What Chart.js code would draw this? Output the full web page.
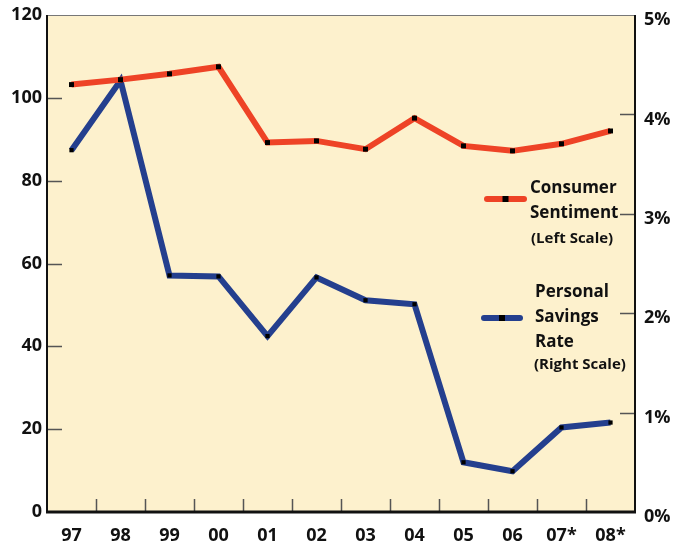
<!DOCTYPE html>
<html>
<head>
<meta charset="utf-8">
<script src="https://cdn.jsdelivr.net/npm/chart.js@4"></script>
<style>
  html, body { margin: 0; padding: 0; background: #fff; }
  #wrap { width: 675px; height: 543px; }
</style>
</head>
<body>
<div id="wrap"><canvas id="chart" width="675" height="543"></canvas></div>
<script>
// values
const years = ['97', '98', '99', '00', '01', '02', '03', '04', '05', '06', '07*', '08*'];
const sentiment = [103.2, 104.4, 105.8, 107.5, 89.2, 89.6, 87.6, 95.1, 88.4, 87.2, 88.9, 92.0];
const savingsRate = [3.64, 4.34, 2.38, 2.37, 1.77, 2.36, 2.13, 2.09, 0.50, 0.41, 0.85, 0.90];
const leftTicks = [0, 20, 40, 60, 80, 100, 120];
const rightTicks = [0, 1, 2, 3, 4, 5];

const FONT = '"Open Sans", "DejaVu Sans", sans-serif';
const RED = '#ee4326';
const BLUE = '#243f8e';
const INK = '#111';

// cream panel + frame
const panel = {
    id: 'panel',
    beforeDatasetsDraw(chart) {
        const { ctx, chartArea: a } = chart;
        ctx.save();
        ctx.fillStyle = '#fdf1cd';
        ctx.fillRect(a.left, a.top, a.right - a.left, a.bottom - a.top);
        ctx.strokeStyle = '#777';
        ctx.lineWidth = 1;
        ctx.beginPath();
        ctx.moveTo(a.left, a.top + 0.5);
        ctx.lineTo(a.right, a.top + 0.5);
        ctx.stroke();

        // inward tick marks
        const y = chart.scales.y, y1 = chart.scales.y1, x = chart.scales.x;
        ctx.strokeStyle = '#555';
        ctx.lineWidth = 1.5;
        ctx.beginPath();
        leftTicks.slice(1, -1).forEach(v => {
            const py = Math.round(y.getPixelForValue(v)) + 0.5;
            ctx.moveTo(a.left, py); ctx.lineTo(a.left + 15, py);
        });
        rightTicks.slice(1, -1).forEach(v => {
            const py = Math.round(y1.getPixelForValue(v)) + 0.5;
            ctx.moveTo(a.right, py); ctx.lineTo(a.right - 15, py);
        });
        for (let i = 1; i < years.length; i++) {
            const px = Math.round((x.getPixelForValue(i - 1) + x.getPixelForValue(i)) / 2) + 0.5;
            ctx.moveTo(px, a.bottom); ctx.lineTo(px, a.bottom - 13);
        }
        ctx.stroke();

        ctx.strokeStyle = INK;
        ctx.lineWidth = 2;
        ctx.beginPath();
        ctx.moveTo(a.left, a.top); ctx.lineTo(a.left, a.bottom);
        ctx.moveTo(a.right, a.top); ctx.lineTo(a.right, a.bottom);
        ctx.stroke();
        ctx.lineWidth = 3;
        ctx.beginPath();
        ctx.moveTo(a.left - 1, a.bottom); ctx.lineTo(a.right + 1, a.bottom);
        ctx.stroke();
        ctx.restore();
    }
};

// hand-placed legend inside the plot, like the original
const sideLegend = {
    id: 'sideLegend',
    afterDatasetsDraw(chart) {
        const ctx = chart.ctx;
        ctx.save();
        function sample(color, x0, x1, y) {
            ctx.strokeStyle = color;
            ctx.lineWidth = 6;
            ctx.lineCap = 'round';
            ctx.beginPath();
            ctx.moveTo(x0, y); ctx.lineTo(x1, y);
            ctx.stroke();
            ctx.fillStyle = '#000';
            ctx.fillRect((x0 + x1) / 2 - 3, y - 3, 6, 6);
        }
        sample(RED, 487, 524, 199);
        sample(BLUE, 484, 520, 318);

        ctx.fillStyle = INK;
        ctx.textBaseline = 'middle';
        ctx.textAlign = 'left';
        ctx.font = 'bold 17px ' + FONT;
        ctx.fillText('Consumer', 530, 188);
        ctx.fillText('Sentiment', 530, 213);
        ctx.fillText('Personal', 535, 292);
        ctx.fillText('Savings', 535, 317);
        ctx.fillText('Rate', 535, 342);
        ctx.font = 'bold 15px ' + FONT;
        ctx.fillText('(Left Scale)', 531, 239);
        ctx.fillText('(Right Scale)', 534, 365);
        ctx.restore();
    }
};

const tickFont = { family: FONT, size: 18, weight: 'bold' };

// keep the plot box where the original has it
function noPadY(s) { s.paddingTop = 0; s.paddingBottom = 0; }

new Chart(document.getElementById('chart'), {
    type: 'line',
    data: {
        labels: years,
        datasets: [
            {
                label: 'Consumer Sentiment (Left Scale)',
                data: sentiment,
                yAxisID: 'y',
                borderColor: RED,
                borderWidth: 6,
                pointStyle: 'rect',
                pointRadius: 3.5,
                pointBackgroundColor: '#000',
                pointBorderWidth: 0,
                tension: 0
            },
            {
                label: 'Personal Savings Rate (Right Scale)',
                data: savingsRate,
                yAxisID: 'y1',
                borderColor: BLUE,
                borderWidth: 6,
                pointStyle: 'rect',
                pointRadius: 3,
                pointBackgroundColor: '#000',
                pointBorderWidth: 0,
                tension: 0
            }
        ]
    },
    options: {
        responsive: false,
        animation: false,
        layout: { padding: { top: 15, left: 0, right: 0, bottom: 0 } },
        plugins: {
            legend: { display: false },
            tooltip: { enabled: false }
        },
        scales: {
            x: {
                offset: true,
                grid: { display: false, drawTicks: false },
                border: { display: false },
                ticks: { color: INK, font: tickFont, padding: 13, maxRotation: 0, autoSkip: false },
                afterFit: s => { s.height = 31; s.paddingLeft = 0; s.paddingRight = 0; }
            },
            y: {
                position: 'left',
                min: 0, max: 120,
                afterBuildTicks: s => { s.ticks = leftTicks.map(v => ({ value: v })); },
                grid: { display: false, drawTicks: false },
                border: { display: false },
                ticks: { color: INK, font: tickFont, padding: 5 },
                afterFit: s => { s.width = 47; noPadY(s); }
            },
            y1: {
                position: 'right',
                min: 0, max: 5,
                afterBuildTicks: s => { s.ticks = rightTicks.map(v => ({ value: v })); },
                grid: { display: false, drawTicks: false },
                border: { display: false },
                ticks: { color: INK, font: tickFont, padding: 9, labelOffset: 5, callback: v => v + '%' },
                afterFit: s => { s.width = 40; noPadY(s); }
            }
        }
    },
    plugins: [panel, sideLegend]
});
</script>
</body>
</html>
